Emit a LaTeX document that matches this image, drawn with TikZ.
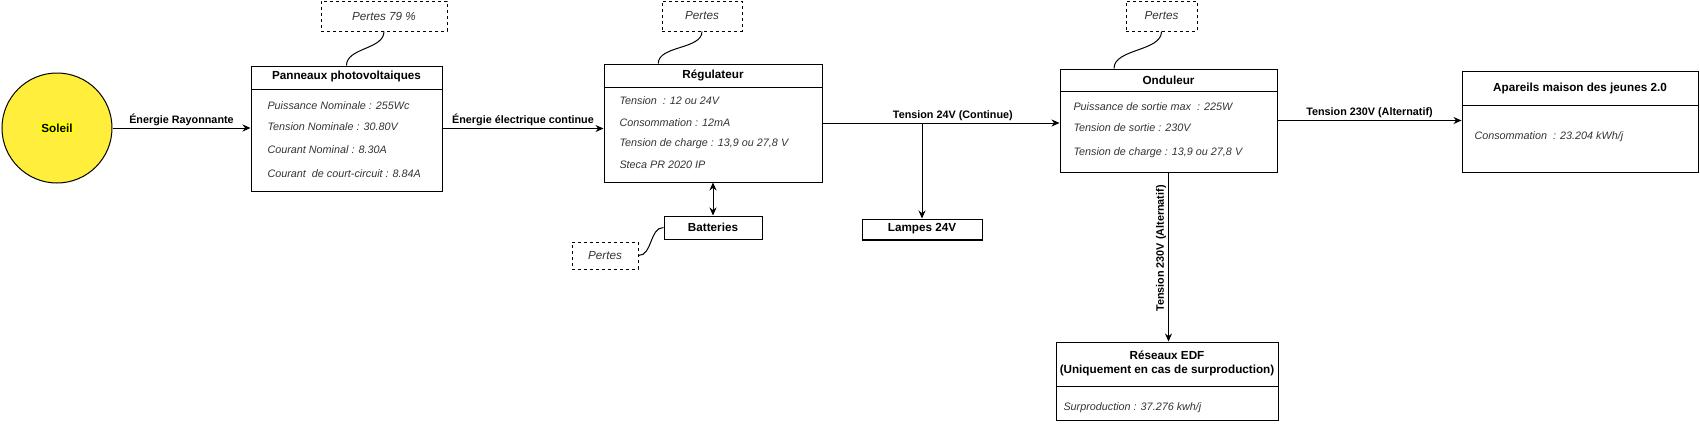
\documentclass[tikz,border=0pt]{standalone}
\usepackage{fontspec}
\setmainfont{Liberation Sans}
\usetikzlibrary{arrows.meta,calc,positioning}
\definecolor{sunfill}{HTML}{FFEE3C}
\definecolor{sunlabel}{HTML}{FFFF00}
\definecolor{textgray}{HTML}{333333}

\begin{document}
\begin{tikzpicture}[x=1pt, y=-1pt, line width=1pt, >={Stealth[length=8pt,width=7pt]},
  every node/.style={font=\fontsize{11.7}{14}\selectfont},
  box/.style={draw, rectangle, inner sep=0pt},
  boxtitle/.style={font=\fontsize{11.7}{14}\selectfont\bfseries},
  info/.style={anchor=west, inner sep=0pt, text=textgray, font=\fontsize{10.8}{13}\selectfont\itshape},
  lossbox/.style={draw, dash pattern=on 3pt off 3pt, inner sep=0pt, text=textgray, font=\fontsize{11.7}{14}\selectfont\itshape},
  flowlabel/.style={font=\fontsize{10.8}{13}\selectfont\bfseries, inner sep=2pt}]
  \useasboundingbox (0,0) rectangle (1700,423);

  % Sun
  \node[circle, draw, fill=sunfill, minimum size=110pt, inner sep=0pt] (sun) at (57,128) {};
  \node[boxtitle, fill=sunlabel, inner sep=1pt] (sunname) at (sun) {Soleil};

  % Solar panels
  \node[box, minimum width=191pt, minimum height=125pt] (pv) at (346.5,128.5) {};
  \draw ([yshift=-24pt]pv.north west) -- ([yshift=-24pt]pv.north east);
  \node[boxtitle] (pvtitle) at ([yshift=-11pt]pv.north) {Panneaux photovoltaiques};
  \node[info] (pv1) at (267,106) {Puissance Nominale : 255Wc};
  \node[info] (pv2) at (267,127) {Tension Nominale : 30.80V};
  \node[info] (pv3) at (267,150) {Courant Nominal : 8.30A};
  \node[info] (pv4) at (267,174) {Courant\ \ de court-circuit : 8.84A};
  \node[lossbox, minimum width=126pt, minimum height=30pt] (pvloss) at (384,16) {Pertes 79 \%};

  % Charge controller
  \node[box, minimum width=218pt, minimum height=118pt] (reg) at (713,123) {};
  \draw ([yshift=-24pt]reg.north west) -- ([yshift=-24pt]reg.north east);
  \node[boxtitle] (regtitle) at ([yshift=-12pt]reg.north) {Régulateur};
  \node[info] (reg1) at (619,101) {Tension\ \ : 12 ou 24V};
  \node[info] (reg2) at (619,123) {Consommation : 12mA};
  \node[info] (reg3) at (619,144) {Tension de charge : 13,9 ou 27,8 V};
  \node[info] (reg4) at (619,165) {Steca PR 2020 IP};
  \node[lossbox, minimum width=80pt, minimum height=30pt] (regloss) at (702,16) {Pertes};

  % Batteries and lamps
  \node[box, boxtitle, minimum width=98pt, minimum height=23pt] (bat) at (713,227.5) {Batteries};
  \node[lossbox, minimum width=66pt, minimum height=27pt] (batloss) at (605,255.5) {Pertes};
  \node[box, boxtitle, minimum width=120pt, minimum height=20pt] (lamp) at (922,229) {Lampes 24V};
  \draw[line width=2pt] (lamp.south west) -- (lamp.south east);

  % Inverter
  \node[box, minimum width=217pt, minimum height=103pt] (ond) at (1168.5,120.5) {};
  \draw ([yshift=-23pt]ond.north west) -- ([yshift=-23pt]ond.north east);
  \node[boxtitle] (ondtitle) at ([yshift=-12pt]ond.north) {Onduleur};
  \node[info] (ond1) at (1073,107) {Puissance de sortie max\ \ : 225W};
  \node[info] (ond2) at (1073,128) {Tension de sortie : 230V};
  \node[info] (ond3) at (1073,153) {Tension de charge : 13,9 ou 27,8 V};
  \node[lossbox, minimum width=71pt, minimum height=30pt] (ondloss) at (1161.5,16) {Pertes};

  % House appliances
  \node[box, minimum width=236pt, minimum height=101pt] (app) at (1580,121.5) {};
  \draw ([yshift=-35pt]app.north west) -- ([yshift=-35pt]app.north east);
  \node[boxtitle] (apptitle) at ([yshift=-18pt]app.north) {Apareils maison des jeunes 2.0};
  \node[info] (app1) at (1474,137) {Consommation\ \ : 23.204 kWh/j};

  % Grid
  \node[box, minimum width=222pt, minimum height=78pt] (edf) at (1167,381) {};
  \draw ([yshift=-45pt]edf.north west) -- ([yshift=-45pt]edf.north east);
  \node[boxtitle, align=center] (edftitle) at ([yshift=-22pt]edf.north) {Réseaux EDF\\(Uniquement en cas de surproduction)};
  \node[info] (edf1) at (1063,408) {Surproduction : 37.276 kwh/j};

  % Losses
  \draw (pvloss.south) .. controls +(0,18) and +(0,-18) .. (pv.north);
  \draw (regloss.south) .. controls +(0,18) and +(0,-18) .. ($(reg.north west)!.25!(reg.north east)$);
  \draw (ondloss.south) .. controls +(0,20) and +(0,-20) .. ($(ond.north west)!.25!(ond.north east)$);
  \draw (batloss.east) .. controls +(14,0) and +(-14,0) .. (bat.west);

  % Energy flows
  \draw[->] (sun.east) -- (sun.east -| pv.west) node[midway, above, flowlabel] {Énergie Rayonnante};
  \draw[->] (pv.east) -- (pv.east -| reg.west) node[midway, above, flowlabel] {Énergie électrique continue};
  \draw[->] (reg.east) -- (reg.east -| ond.west) node[pos=0.55, above, flowlabel] {Tension 24V (Continue)};
  \coordinate (split) at (reg.east -| lamp.north);
  \draw[->] (split) -- (lamp.north);
  \draw[<->] (reg.south) -- (bat.north);
  \draw[->] (ond.east) -- (ond.east -| app.west) node[midway, above, flowlabel] {Tension 230V (Alternatif)};
  \draw[->] (ond.south) -- (ond.south |- edf.north) node[pos=0.45, rotate=90, above, flowlabel] {Tension 230V (Alternatif)};
\end{tikzpicture}
\end{document}
